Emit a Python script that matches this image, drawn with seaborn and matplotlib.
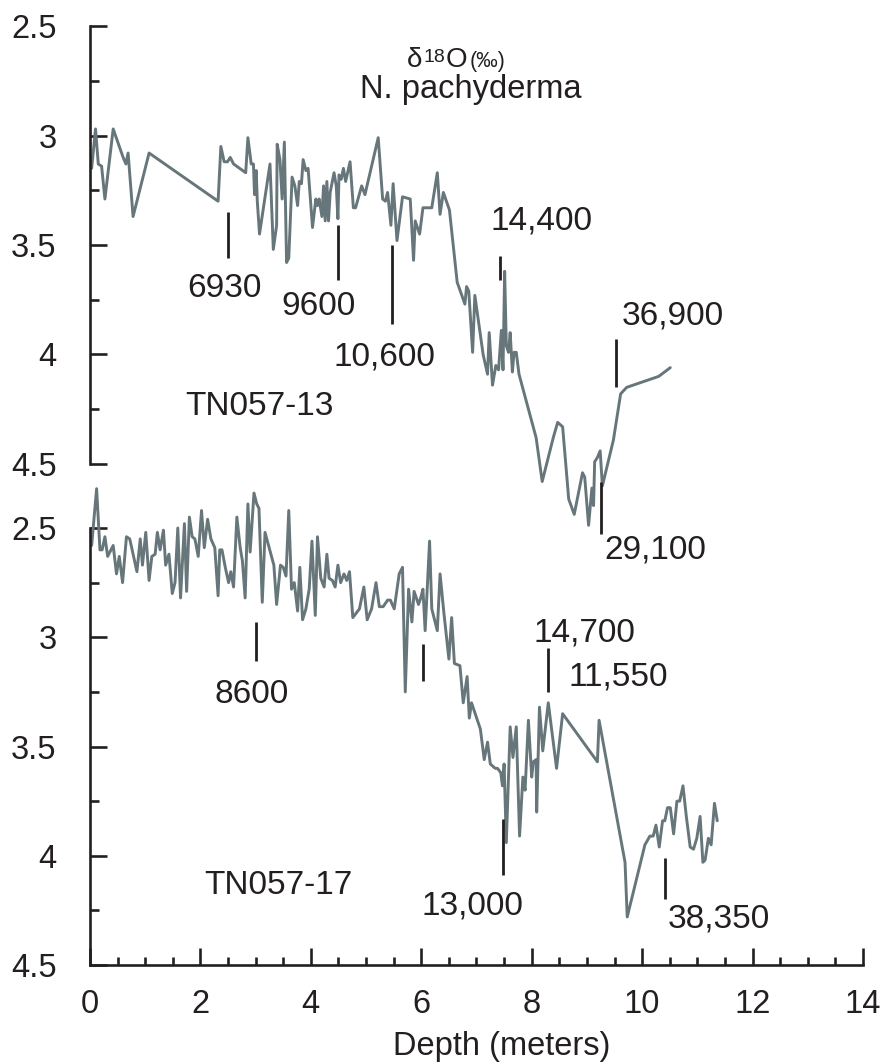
import numpy as np
import pandas as pd
import matplotlib.pyplot as plt
import seaborn as sns
from matplotlib.ticker import MultipleLocator, FuncFormatter

sns.set_style("ticks")
plt.rcParams['font.family'] = ['Liberation Sans', 'DejaVu Sans']

LINE = "#66767a"
INK = "#231f20"

# TN057-13 (upper core): depth in m, d18O in permil
depth_13 = [0.03, 0.10, 0.15, 0.21, 0.27, 0.42, 0.60, 0.65, 0.69, 0.78, 1.07,
            2.32, 2.37, 2.43, 2.49, 2.54, 2.60, 2.82, 2.86, 2.92, 2.96, 2.98,
            3.01, 3.03, 3.07, 3.26, 3.32, 3.38, 3.39, 3.44, 3.48, 3.52, 3.56,
            3.60, 3.66, 3.71, 3.76, 3.79, 3.83, 3.86, 3.91, 3.95, 4.03, 4.09,
            4.12, 4.15, 4.20, 4.23, 4.26, 4.29, 4.32, 4.35, 4.42, 4.46, 4.49,
            4.51, 4.55, 4.59, 4.63, 4.71, 4.77, 4.81, 4.92, 4.98, 5.22, 5.30,
            5.35, 5.39, 5.45, 5.49, 5.56, 5.66, 5.80, 5.86, 5.89, 5.97, 6.03,
            6.19, 6.29, 6.34, 6.40, 6.51, 6.65, 6.79, 6.82, 6.86, 6.93, 6.97,
            7.12, 7.20, 7.23, 7.29, 7.35, 7.40, 7.45, 7.48, 7.51, 7.54, 7.58,
            7.61, 7.65, 7.68, 7.72, 7.77, 8.08, 8.19, 8.39, 8.47, 8.56, 8.67,
            8.77, 8.92, 8.96, 9.03, 9.09, 9.12, 9.14, 9.19, 9.24, 9.28, 9.48,
            9.61, 9.72, 10.30, 10.51]
d18o_13 = [3.15, 2.97, 3.13, 3.14, 3.29, 2.97, 3.10, 3.13, 3.08, 3.37, 3.08,
           3.30, 3.05, 3.12, 3.12, 3.10, 3.13, 3.17, 3.01, 3.13, 3.13, 3.27,
           3.16, 3.30, 3.45, 3.13, 3.52, 3.41, 3.04, 3.11, 3.29, 3.03, 3.58,
           3.56, 3.19, 3.23, 3.32, 3.21, 3.22, 3.11, 3.16, 3.15, 3.42, 3.29,
           3.32, 3.29, 3.37, 3.23, 3.39, 3.21, 3.39, 3.26, 3.17, 3.23, 3.38,
           3.18, 3.20, 3.15, 3.21, 3.12, 3.33, 3.33, 3.23, 3.27, 3.01, 3.29,
           3.30, 3.26, 3.41, 3.22, 3.48, 3.28, 3.29, 3.57, 3.39, 3.45, 3.33,
           3.33, 3.17, 3.36, 3.26, 3.34, 3.67, 3.77, 3.69, 3.71, 3.99, 3.73,
           4.00, 4.09, 3.90, 4.14, 4.05, 4.07, 3.89, 4.07, 3.62, 3.96, 3.99,
           3.90, 4.08, 3.99, 3.99, 4.09, 4.38, 4.58, 4.38, 4.31, 4.33, 4.66,
           4.73, 4.54, 4.56, 4.78, 4.61, 4.69, 4.49, 4.47, 4.44, 4.60, 4.39,
           4.18, 4.15, 4.10, 4.06]

# TN057-17 (lower core)
depth_17 = [0.03, 0.12, 0.18, 0.22, 0.27, 0.32, 0.42, 0.48, 0.53, 0.59, 0.66,
            0.72, 0.85, 0.91, 0.95, 1.01, 1.07, 1.12, 1.18, 1.22, 1.27, 1.33,
            1.37, 1.43, 1.49, 1.54, 1.59, 1.64, 1.71, 1.75, 1.80, 1.85, 1.90,
            1.96, 2.02, 2.07, 2.13, 2.19, 2.26, 2.32, 2.35, 2.39, 2.45, 2.51,
            2.55, 2.60, 2.66, 2.72, 2.76, 2.81, 2.86, 2.90, 2.97, 3.02, 3.06,
            3.12, 3.17, 3.33, 3.38, 3.45, 3.50, 3.55, 3.60, 3.65, 3.70, 3.76,
            3.80, 3.85, 3.91, 3.97, 4.02, 4.08, 4.12, 4.18, 4.24, 4.29, 4.33,
            4.39, 4.44, 4.49, 4.54, 4.60, 4.65, 4.70, 4.76, 4.88, 4.96, 5.02,
            5.10, 5.18, 5.24, 5.31, 5.39, 5.44, 5.51, 5.60, 5.66, 5.71, 5.77,
            5.83, 5.87, 5.95, 5.99, 6.03, 6.07, 6.15, 6.19, 6.29, 6.34, 6.41,
            6.50, 6.55, 6.60, 6.70, 6.76, 6.83, 6.87, 6.91, 7.07, 7.10, 7.14,
            7.20, 7.25, 7.34, 7.38, 7.44, 7.47, 7.50, 7.54, 7.61, 7.66, 7.72,
            7.78, 7.84, 7.88, 7.94, 8.00, 8.03, 8.08, 8.09, 8.14, 8.20, 8.30,
            8.45, 8.56, 9.19, 9.22, 9.69, 9.73, 10.05, 10.14, 10.20, 10.25,
            10.31, 10.37, 10.41, 10.46, 10.51, 10.57, 10.63, 10.68, 10.74,
            10.80, 10.87, 10.93, 10.99, 11.05, 11.10, 11.14, 11.20, 11.25,
            11.31, 11.36]
d18o_17 = [2.58, 2.32, 2.60, 2.60, 2.54, 2.63, 2.58, 2.71, 2.63, 2.75, 2.54,
           2.55, 2.70, 2.55, 2.67, 2.52, 2.74, 2.63, 2.62, 2.52, 2.60, 2.51,
           2.67, 2.62, 2.80, 2.75, 2.50, 2.82, 2.48, 2.79, 2.45, 2.54, 2.55,
           2.63, 2.42, 2.59, 2.46, 2.55, 2.59, 2.81, 2.60, 2.60, 2.68, 2.75,
           2.70, 2.77, 2.45, 2.59, 2.65, 2.82, 2.39, 2.61, 2.34, 2.39, 2.41,
           2.84, 2.52, 2.67, 2.85, 2.67, 2.68, 2.72, 2.42, 2.78, 2.75, 2.88,
           2.68, 2.92, 2.87, 2.78, 2.56, 2.90, 2.54, 2.73, 2.77, 2.62, 2.73,
           2.74, 2.77, 2.67, 2.75, 2.71, 2.74, 2.70, 2.91, 2.87, 2.77, 2.92,
           2.87, 2.75, 2.86, 2.86, 2.83, 2.83, 2.87, 2.71, 2.68, 3.25, 2.78,
           2.93, 2.79, 2.85, 2.82, 2.78, 2.97, 2.56, 2.87, 2.97, 2.71, 2.89,
           3.10, 2.91, 3.12, 3.13, 3.30, 3.18, 3.37, 3.30, 3.42, 3.48, 3.56,
           3.48, 3.58, 3.60, 3.60, 3.62, 3.68, 3.58, 3.94, 3.41, 3.55, 3.41,
           3.91, 3.64, 3.70, 3.38, 3.64, 3.57, 3.56, 3.80, 3.32, 3.52, 3.30,
           3.60, 3.35, 3.57, 3.38, 4.03, 4.28, 3.95, 3.91, 3.91, 3.86,
           3.96, 3.84, 3.84, 3.78, 3.78, 3.90, 3.75, 3.75, 3.68,
           3.82, 3.96, 3.97, 3.92, 3.82, 4.03, 4.02, 3.92, 3.95,
           3.76, 3.84]

# dated levels: depth, top and bottom of the tick mark, age label
age_depth_13 = [2.50, 4.50, 5.47, 7.42, 9.53, 9.26]
age_top_13 = [3.35, 3.41, 3.50, 3.55, 3.93, 4.58]
age_bot_13 = [3.56, 3.66, 3.86, 3.66, 4.15, 4.82]
age_label_13 = ["6930", "9600", "10,600", "14,400", "36,900", "29,100"]

age_depth_17 = [3.00, 6.04, 7.48, 8.30, 10.42]
age_top_17 = [2.93, 3.03, 3.83, 3.05, 4.01]
age_bot_17 = [3.11, 3.20, 4.09, 3.25, 4.20]
age_label_17 = ["8600", "", "13,000", "14,700", "38,350"]

# label anchors (depth, baseline value)
lab_pos_13 = [(2.43, 3.737), (4.13, 3.82), (5.34, 4.05), (8.17, 3.427),
              (10.56, 3.865), (10.24, 4.93)]
lab_pos_17 = [(2.92, 3.30), None, (6.92, 4.267), (8.95, 3.02), (11.39, 4.33)]

df13 = pd.DataFrame({"depth": depth_13, "d18o": d18o_13})
df17 = pd.DataFrame({"depth": depth_17, "d18o": d18o_17})

fig = plt.figure(figsize=(8.8, 10.63), dpi=100)
ax_top = fig.add_axes([0.10227, 0.56350, 0.87841, 0.41204])
ax_bot = fig.add_axes([0.10227, 0.09219, 0.87841, 0.41110])

for ax, df in [(ax_top, df13), (ax_bot, df17)]:
    sns.lineplot(data=df, x="depth", y="d18o", ax=ax, color=LINE, lw=2.1,
                 sort=False, estimator=None, clip_on=False)
    ax.set_xlim(0, 14)
    ax.set_ylim(4.5, 2.5)
    ax.patch.set_alpha(0)
    ax.set_xlabel("")
    ax.set_ylabel("")
    for s in ["top", "right"]:
        ax.spines[s].set_visible(False)
    ax.spines["left"].set_linewidth(1.9)
    ax.spines["left"].set_color(INK)
    ax.yaxis.set_major_locator(MultipleLocator(0.5))
    ax.yaxis.set_minor_locator(MultipleLocator(0.25))
    ax.yaxis.set_major_formatter(FuncFormatter(lambda v, p: "%g" % v))
    ax.tick_params(axis="y", which="major", direction="in", length=12,
                   width=1.9, color=INK, labelsize=23.5, labelcolor=INK, pad=24)
    ax.tick_params(axis="y", which="minor", direction="in", length=6.5,
                   width=1.9, color=INK)

# upper panel has no x axis
ax_top.spines["bottom"].set_visible(False)
ax_top.tick_params(axis="x", which="both", bottom=False, labelbottom=False)

ax_bot.spines["bottom"].set_linewidth(1.9)
ax_bot.spines["bottom"].set_color(INK)
ax_bot.xaxis.set_major_locator(MultipleLocator(2))
ax_bot.xaxis.set_minor_locator(MultipleLocator(0.5))
ax_bot.tick_params(axis="x", which="major", direction="in", length=12,
                   width=1.9, color=INK, labelsize=23.5, labelcolor=INK, pad=17)
ax_bot.tick_params(axis="x", which="minor", direction="in", length=6,
                   width=1.9, color=INK)
ax_bot.set_xlabel("Depth (meters)", fontsize=23.5, color=INK, va="baseline")
ax_bot.xaxis.set_label_coords((502 - 90) / 773, -(1055 - 965) / 437)

# age ticks and labels
for ax, xs, y0, y1, labs, pos in [
        (ax_top, age_depth_13, age_top_13, age_bot_13, age_label_13, lab_pos_13),
        (ax_bot, age_depth_17, age_top_17, age_bot_17, age_label_17, lab_pos_17)]:
    ax.vlines(xs, y0, y1, color=INK, lw=2.0, clip_on=False)
    for lab, p in zip(labs, pos):
        if p is None:
            continue
        ax.text(p[0], p[1], lab, fontsize=24, color=INK, ha="center",
                va="baseline", clip_on=False)

# core names
ax_top.text(3.06, 4.276, "TN057-13", fontsize=24, color=INK, ha="center",
            va="baseline")
ax_bot.text(3.41, 4.176, "TN057-17", fontsize=24, color=INK, ha="center",
            va="baseline")
ax_bot.text(9.57, 3.22, "11,550", fontsize=24, color=INK, ha="center",
            va="baseline")

# header: d18O (permil) / N. pachyderma
anchor = (5.74, 2.687)
for txt, dx, dy, fs in [("δ", 0, 0, 20), ("18", 17, 5, 14), ("O", 39, 0, 20),
                        ("(‰)", 63, 0, 15.5)]:
    ax_top.annotate(txt, xy=anchor, xytext=(dx * 0.72, dy * 0.72),
                    textcoords="offset points", fontsize=fs, color=INK,
                    ha="left", va="baseline")
ax_top.text(6.90, 2.829, "N. pachyderma", fontsize=23.5, color=INK,
            ha="center", va="baseline")

fig.savefig("out.png", dpi=100)
